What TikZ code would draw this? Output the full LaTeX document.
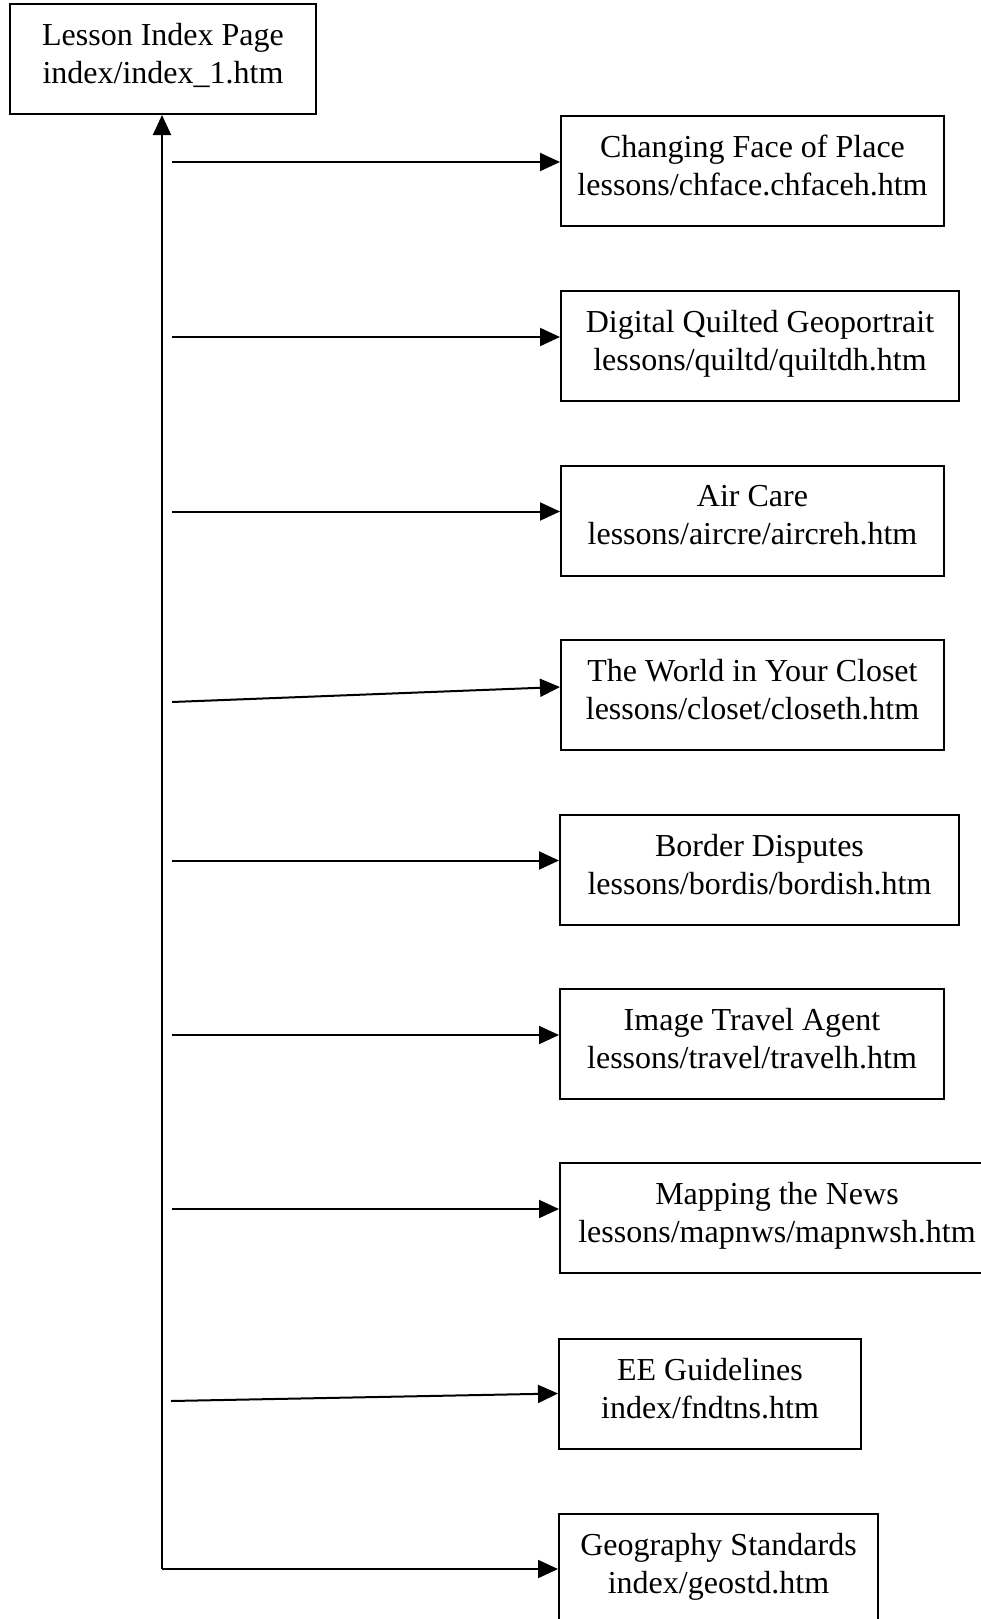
\documentclass[tikz,border=0pt]{standalone}
\usepackage{fontspec}
\setmainfont{Liberation Serif}
\usetikzlibrary{arrows.meta}

\begin{document}
\begin{tikzpicture}[x=1pt, y=-1pt,
    page/.style={draw, line width=2pt, minimum height=110pt, align=center,
      text depth=11pt, font=\fontsize{32}{38}\selectfont},
    link/.style={line width=2pt, -{Triangle[length=20pt, width=18pt]}}]
    \useasboundingbox (0, 0) rectangle (980, 1619);

    \node[page, minimum width=306pt] (index) at (163, 59)
      {Lesson Index Page\\index/index\_1.htm};

    \node[page, anchor=west, minimum width=383pt] (chface) at (560, 171)
      {Changing Face of Place\\lessons/chface.chfaceh.htm};
    \node[page, anchor=west, minimum width=398pt] (quiltd) at (560, 346)
      {Digital Quilted Geoportrait\\lessons/quiltd/quiltdh.htm};
    \node[page, anchor=west, minimum width=383pt] (aircre) at (560, 520.5)
      {Air Care\\lessons/aircre/aircreh.htm};
    \node[page, anchor=west, minimum width=383pt] (closet) at (560, 695)
      {The World in Your Closet\\lessons/closet/closeth.htm};
    \node[page, anchor=west, minimum width=399pt] (bordis) at (559, 869.5)
      {Border Disputes\\lessons/bordis/bordish.htm};
    \node[page, anchor=west, minimum width=384pt] (travel) at (559, 1044)
      {Image Travel Agent\\lessons/travel/travelh.htm};
    \node[page, anchor=west, minimum width=434pt] (mapnws) at (559, 1218)
      {Mapping the News\\lessons/mapnws/mapnwsh.htm};
    \node[page, anchor=west, minimum width=302pt] (fndtns) at (558, 1393.5)
      {EE Guidelines\\index/fndtns.htm};
    \node[page, anchor=west, minimum width=319pt] (geostd) at (558, 1569)
      {Geography Standards\\index/geostd.htm};

    % start of each branch
    \coordinate (corner) at (162, 1569);
    \foreach \name/\y in {chface/162, quiltd/337, aircre/511.5, bordis/860.5,
      travel/1035, mapnws/1209} {
      \coordinate (s-\name) at (172, \y);
      \draw[link] (s-\name) -- (s-\name -| \name.west);
    }
    \coordinate (s-closet) at (172, 702);
    \coordinate (s-fndtns) at (171, 1401);
    \draw[link] (s-closet) -- ([yshift=8pt]closet.west);
    \draw[link] (s-fndtns) -- (fndtns.west);

    \draw[link] (corner) -- (corner |- index.south);
    \draw[link] (corner) -- (geostd.west);
\end{tikzpicture}
\end{document}
